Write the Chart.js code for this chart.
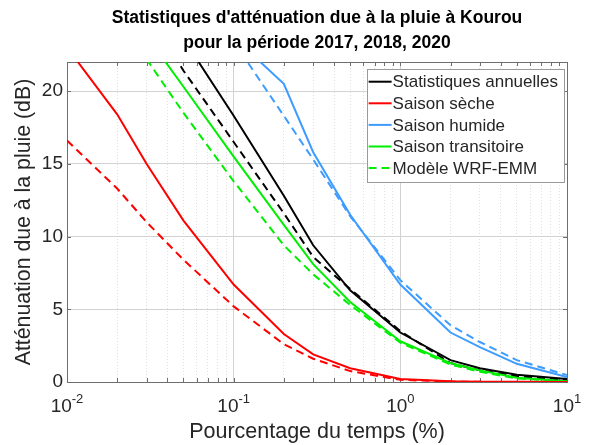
<!DOCTYPE html>
<html>
<head>
<meta charset="utf-8">
<script src="https://cdn.jsdelivr.net/npm/chart.js@4.4.0/dist/chart.umd.js"></script>
<style>
    html, body { margin: 0; padding: 0; background: #fff; }
    #wrap { width: 595px; height: 445px; }
</style>
</head>
<body>
<div id="wrap"><canvas id="chart"></canvas></div>
<script>
// percentage of time (x) shared by every curve
const pct = [0.01, 0.02, 0.03, 0.05, 0.1, 0.2, 0.3, 0.5, 1, 2, 3, 5, 10];

// attenuation (dB), solid = measured, dashed = WRF-EMM model
const annualObs   = [null, null, null, 23.6, 18.3, 12.8, 9.4, 6.3, 3.4, 1.5, 0.95, 0.5, 0.2];
const annualModel = [null, null, 25.5, 21.4, 16.5, 11.6, 8.6, 6.4, 3.5, 1.3, 0.8, 0.4, 0.15];
const dryObs      = [23.0, 18.4, 15.0, 11.1, 6.7, 3.3, 1.9, 0.95, 0.2, 0.05, 0.02, 0.01, 0];
const dryModel    = [16.6, 13.3, 11.0, 8.4, 5.2, 2.6, 1.6, 0.75, 0.15, 0.03, 0.01, 0, 0];
const wetObs      = [null, null, null, null, 23.7, 20.5, 15.8, 11.5, 6.7, 3.4, 2.4, 1.25, 0.35];
const wetModel    = [null, null, null, null, 23.4, 18.3, 15.3, 11.4, 7.0, 3.9, 2.75, 1.5, 0.48];
const transObs    = [null, null, 23.8, 20.3, 15.5, 10.8, 8.1, 5.5, 2.8, 1.3, 0.8, 0.3, 0.05];
const transModel  = [null, null, 22.2, 18.5, 13.8, 9.4, 7.4, 5.3, 2.7, 1.2, 0.7, 0.25, 0.05];

const xMajorTicks = [0.01, 0.1, 1, 10];
const xTickExps   = ['-2', '-1', '0', '1'];
const xMinorTicks = [0.02, 0.03, 0.04, 0.05, 0.06, 0.07, 0.08, 0.09,
                     0.2, 0.3, 0.4, 0.5, 0.6, 0.7, 0.8, 0.9,
                     2, 3, 4, 5, 6, 7, 8, 9];
const yTicks = [0, 5, 10, 15, 20];

const titleLines = ["Statistiques d'atténuation due à la pluie à Kourou", 'pour la période 2017, 2018, 2020'];
const xTitle = 'Pourcentage du temps (%)';
const yTitle = 'Atténuation due à la pluie (dB)';

const FONT = "'Liberation Sans', Arial, sans-serif";
const TXT = '#262626';
const RED = '#ff0000', BLUE = '#3d9cff', GREEN = '#00ee00', BLACK = '#000000';
const DASH = [8, 5];

const pts = (vals) => pct.map((p, i) => ({ x: p, y: vals[i] }));

function series(label, vals, color, dashed, inLegend) {
    return {
        label, data: pts(vals), inLegend,
        borderColor: color, backgroundColor: color,
        borderWidth: 2, borderDash: dashed ? DASH : [],
        pointRadius: 0, tension: 0, spanGaps: false,
    };
}

// axis box + inward ticks, matlab style
const frame = {
    id: 'frame',
    beforeDatasetsDraw(chart) {
        const { ctx, chartArea: a, scales: { x, y } } = chart;
        ctx.save();
        ctx.strokeStyle = '#6e6e6e';
        ctx.lineWidth = 1;
        ctx.beginPath();
        [...xMajorTicks, ...xMinorTicks].forEach((v) => {
            const px = Math.round(x.getPixelForValue(v)) + 0.5;
            ctx.moveTo(px, a.bottom); ctx.lineTo(px, a.bottom - 4);
            ctx.moveTo(px, a.top);    ctx.lineTo(px, a.top + 4);
        });
        yTicks.forEach((v) => {
            const py = Math.round(y.getPixelForValue(v)) + 0.5;
            ctx.moveTo(a.left, py);  ctx.lineTo(a.left + 4, py);
            ctx.moveTo(a.right, py); ctx.lineTo(a.right - 4, py);
        });
        ctx.stroke();
        ctx.strokeRect(Math.round(a.left) + 0.5, Math.round(a.top) + 0.5,
                       Math.round(a.right - a.left), Math.round(a.bottom - a.top));
        ctx.restore();
    },
    afterDraw(chart) {
        // 10^n tick labels
        const { ctx, chartArea: a, scales: { x } } = chart;
        ctx.save();
        ctx.fillStyle = TXT;
        ctx.textBaseline = 'alphabetic';
        ctx.textAlign = 'left';
        xMajorTicks.forEach((v, i) => {
            const px = x.getPixelForValue(v);
            ctx.font = `19px ${FONT}`;
            const wb = ctx.measureText('10').width;
            ctx.font = `13px ${FONT}`;
            const we = ctx.measureText(xTickExps[i]).width;
            const left = px - (wb + we) / 2;
            ctx.font = `19px ${FONT}`;
            ctx.fillText('10', left, a.bottom + 30);
            ctx.font = `13px ${FONT}`;
            ctx.fillText(xTickExps[i], left + wb, a.bottom + 21);
        });
        ctx.restore();
    },
};

const legendBox = {
    id: 'legendBox',
    afterDatasetsDraw(chart) {
        const { ctx, chartArea: a } = chart;
        const items = chart.data.datasets.filter((d) => d.inLegend);
        ctx.save();
        ctx.font = `17px ${FONT}`;
        const tw = Math.max(...items.map((d) => ctx.measureText(d.label).width));
        const w = 2 + 23 + 1 + tw + 6, h = 113;
        const x0 = a.right - 3 - w, y0 = a.top + 7;
        ctx.fillStyle = '#fff';
        ctx.fillRect(x0, y0, w, h);
        ctx.strokeStyle = '#9a9a9a';
        ctx.lineWidth = 1;
        ctx.strokeRect(Math.round(x0) + 0.5, Math.round(y0) + 0.5, Math.round(w), h);
        ctx.textBaseline = 'middle';
        items.forEach((d, i) => {
            const cy = y0 + 12.7 + i * 21.6;
            ctx.strokeStyle = d.borderColor;
            ctx.lineWidth = 2;
            ctx.setLineDash(d.borderDash);
            ctx.beginPath();
            ctx.moveTo(x0 + 2, cy); ctx.lineTo(x0 + 25, cy);
            ctx.stroke();
            ctx.setLineDash([]);
            ctx.fillStyle = TXT;
            ctx.fillText(d.label, x0 + 26, cy + 1);
        });
        ctx.restore();
    },
};

Chart.defaults.font.family = FONT;
Chart.defaults.color = TXT;

new Chart(document.getElementById('chart'), {
    type: 'line',
    data: {
        datasets: [
            series('Statistiques annuelles', annualObs, BLACK, false, true),
            series('Saison sèche', dryObs, RED, false, true),
            series('Saison humide', wetObs, BLUE, false, true),
            series('Saison transitoire', transObs, GREEN, false, true),
            series('Modèle WRF-EMM', transModel, GREEN, true, true),
            series('Modèle annuel', annualModel, BLACK, true, false),
            series('Modèle sèche', dryModel, RED, true, false),
            series('Modèle humide', wetModel, BLUE, true, false),
        ],
    },
    options: {
        responsive: true, maintainAspectRatio: false, animation: false,
        layout: { padding: { left: 0, right: 28, top: 0, bottom: 0 } },
        plugins: {
            legend: { display: false },
            tooltip: { enabled: false },
            title: {
                display: true, fullSize: false, text: titleLines, color: '#000',
                font: { size: 17.5, weight: 'bold', lineHeight: 25 / 17.5 },
                padding: { top: 6, bottom: 6 },
            },
        },
        scales: {
            x: {
                type: 'logarithmic', min: 0.01, max: 10, position: 'bottom',
                afterBuildTicks: (s) => { s.ticks = xMajorTicks.map((v) => ({ value: v })); },
                afterFit: (s) => { s.height = 63; },
                grid: { color: '#d2d2d2', drawTicks: false },
                border: { display: false },
                ticks: { display: false },
                title: {
                    display: true, text: xTitle, color: TXT,
                    font: { size: 21.5, lineHeight: 1.2 }, padding: { top: 0, bottom: 0 },
                },
            },
            xMinor: {
                type: 'logarithmic', min: 0.01, max: 10, position: 'bottom',
                afterBuildTicks: (s) => { s.ticks = xMinorTicks.map((v) => ({ value: v })); },
                afterFit: (s) => { s.height = 0; },
                grid: { color: '#e0e0e0', drawTicks: false },
                border: { display: false, dash: [1, 2] },
                ticks: { display: false },
            },
            y: {
                min: 0, max: 22,
                afterBuildTicks: (s) => { s.ticks = yTicks.map((v) => ({ value: v })); },
                afterFit: (s) => { s.width = 67; },
                grid: { color: '#d2d2d2', drawTicks: false },
                border: { display: false },
                ticks: { font: { size: 19 }, color: TXT, padding: 4 },
                title: {
                    display: true, text: yTitle, color: TXT,
                    font: { size: 21.3, lineHeight: 1.2 }, padding: { top: 11, bottom: 0 },
                },
            },
        },
    },
    plugins: [frame, legendBox],
});
</script>
</body>
</html>
